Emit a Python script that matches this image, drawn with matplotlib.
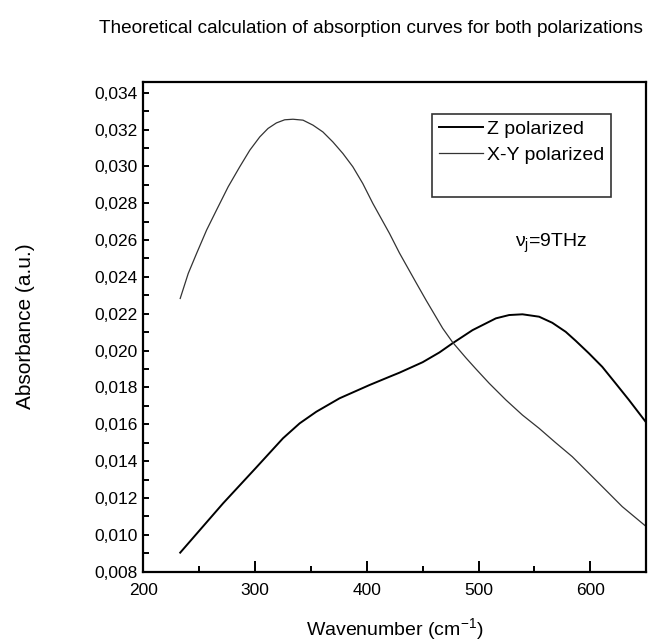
import matplotlib
matplotlib.use("Agg")
import matplotlib.pyplot as plt
from matplotlib.lines import Line2D
from matplotlib.ticker import MultipleLocator, FuncFormatter

plt.rcParams['font.family'] = ['Liberation Sans', 'DejaVu Sans']
plt.rcParams['mathtext.fontset'] = 'custom'
plt.rcParams['mathtext.rm'] = 'Liberation Sans'
plt.rcParams['mathtext.it'] = 'Liberation Sans:italic'

# values
z_wav = [233, 271.4, 300.4, 325.0, 339.9, 354.8, 375.6, 402.4, 420.3, 429.2,
         450.0, 465.0, 476.8, 494.6, 515.5, 527.4, 539.3, 554.2, 566.0, 578.0,
         587.0, 598.8, 610.7, 622.7, 634.6, 650]
z_abs = [0.00903, 0.01171, 0.01361, 0.01524, 0.01605, 0.01668, 0.01741, 0.01813,
         0.01858, 0.01880, 0.01937, 0.01990, 0.02040, 0.02111, 0.02175, 0.02193,
         0.02197, 0.02184, 0.02151, 0.02102, 0.02053, 0.01985, 0.01912, 0.01822,
         0.01732, 0.01610]

xy_wav = [233, 240.2, 247.7, 256.6, 265.5, 275.9, 286.3, 295.3, 304.2, 311.6,
          319.1, 326.5, 333.9, 342.9, 351.8, 360.7, 369.6, 378.6, 387.5, 396.4,
          405.4, 420.3, 429.2, 444.0, 453.0, 467.9, 476.8, 488.8, 497.7, 509.6,
          524.5, 539.3, 554.2, 569.0, 583.9, 598.8, 613.8, 628.6, 650]
xy_abs = [0.02283, 0.02419, 0.02528, 0.02654, 0.02763, 0.02889, 0.02998, 0.03088,
          0.03160, 0.03206, 0.03236, 0.03253, 0.03256, 0.03251, 0.03224, 0.03187,
          0.03133, 0.03070, 0.02998, 0.02907, 0.02799, 0.02636, 0.02530, 0.02370,
          0.02274, 0.02121, 0.02045, 0.01960, 0.01900, 0.01822, 0.01732, 0.01650,
          0.01578, 0.01500, 0.01424, 0.01334, 0.01243, 0.01153, 0.01045]

fig = plt.figure(figsize=(6.53, 6.43), dpi=100)
ax = fig.add_axes([0.2195, 0.111, 0.770, 0.762])

ax.plot(z_wav, z_abs, color='black', lw=1.4, label='Z polarized')
ax.plot(xy_wav, xy_abs, color='#333333', lw=0.9, label='X-Y polarized')

ax.set_xlim(200, 650)
ax.set_ylim(0.008, 0.0346)
ax.xaxis.set_major_locator(MultipleLocator(100))
ax.xaxis.set_minor_locator(MultipleLocator(50))
ax.yaxis.set_major_locator(MultipleLocator(0.002))
ax.yaxis.set_minor_locator(MultipleLocator(0.001))
ax.yaxis.set_major_formatter(FuncFormatter(lambda v, p: ('%.3f' % v).replace('.', ',')))

ax.tick_params(which='both', direction='in', width=1.4, labelsize=12.5, pad=4)
ax.tick_params(axis='x', which='major', length=8)
ax.tick_params(axis='x', which='minor', length=4.5)
ax.tick_params(axis='y', which='major', length=4.5)
ax.tick_params(axis='y', which='minor', length=4)
ax.tick_params(axis='x', pad=8)
for s in ax.spines.values():
    s.set_linewidth(1.6)

ax.set_xlabel('Wavenumber (cm$^{-1}$)', fontsize=14, labelpad=13)
ax.set_ylabel('Absorbance (a.u.)', fontsize=15, labelpad=43)

handles, labels = ax.get_legend_handles_labels()
# the original box keeps an empty row under the two entries
handles.append(Line2D([], [], color='none'))
labels.append(' ')
leg = ax.legend(handles, labels, loc='upper left', bbox_to_anchor=(0.574, 0.935),
                fontsize=14, frameon=True, fancybox=False, edgecolor='black',
                handlelength=2.27, handletextpad=0.2, borderpad=0.36,
                labelspacing=0.44, borderaxespad=0)
leg.get_frame().set_linewidth(1.2)

ax.text(565, 0.0258, 'ν$_\\mathregular{j}$=9THz', fontsize=14, ha='center', va='center')

fig.text(0.568, 0.956, 'Theoretical calculation of absorption curves for both polarizations',
         fontsize=13.7, ha='center', va='center')

fig.savefig('out.png', dpi=100)
